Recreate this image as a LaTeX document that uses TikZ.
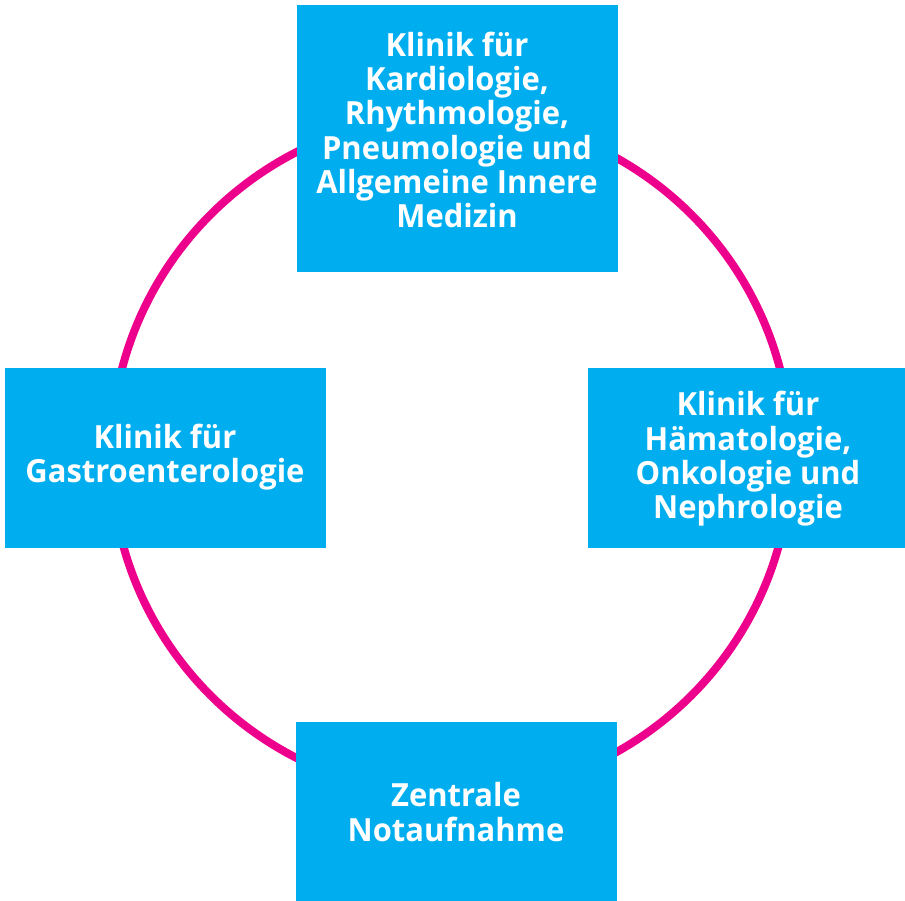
\documentclass[tikz,border=0pt]{standalone}
\usepackage{fontspec}
\setmainfont{Open Sans}[FakeStretch=0.97]
\definecolor{boxblue}{HTML}{00AEEF}
\definecolor{ringpink}{HTML}{EC008C}
\begin{document}
\begin{tikzpicture}[x=1bp,y=-1bp,
  unit/.style={fill=boxblue, draw=none, inner sep=0pt, anchor=north west},
  lbl/.style={text=white, font=\fontsize{32}{34.5}\selectfont\bfseries, align=center, inner sep=0pt}]
\useasboundingbox (0,0) rectangle (905,901);
\node[draw=ringpink, line width=8bp, circle, minimum size=680bp, inner sep=0pt] (ring) at (451,455) {};
\node[unit, minimum width=321bp, minimum height=267bp] (topbox) at (297,5) {};
\node[unit, minimum width=321bp, minimum height=180bp] (leftbox) at (5,368) {};
\node[unit, minimum width=317bp, minimum height=180bp] (rightbox) at (588,368) {};
\node[unit, minimum width=321bp, minimum height=179bp] (bottombox) at (296,722) {};
\node[lbl] (toptext) at (457,130) {Klinik für\\Kardiologie,\\Rhythmologie,\\Pneumologie und\\Allgemeine Innere\\Medizin};
\node[lbl] (lefttext) at (165,457) {Klinik für\\Gastroenterologie};
\node[lbl] (righttext) at (748,459) {Klinik für\\Hämatologie,\\Onkologie und\\Nephrologie};
\node[lbl] (bottomtext) at (456,812) {Zentrale\\Notaufnahme};
\end{tikzpicture}
\end{document}
